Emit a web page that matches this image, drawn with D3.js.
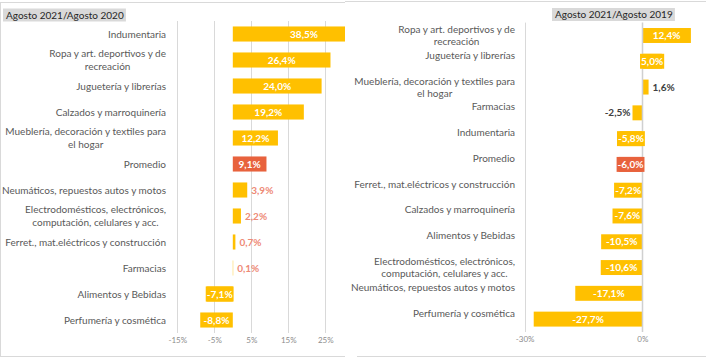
<!DOCTYPE html>
<html>
<head>
<meta charset="utf-8">
<script src="https://cdn.jsdelivr.net/npm/d3@7"></script>
<style>
  html, body { margin: 0; padding: 0; background: #fff; }
  svg { display: block; }
  text { font-family: Lato, "Open Sans", sans-serif; }
</style>
</head>
<body>
<svg id="chart" width="706" height="358"></svg>
<script>
// ---------- DATA ----------
const leftTitle = "Agosto 2021/Agosto 2020";
const leftCategories = [
  "Indumentaria",
  "Ropa y art. deportivos y de\nrecreación",
  "Juguetería y librerías",
  "Calzados y marroquinería",
  "Mueblería, decoración y textiles para\nel hogar",
  "Promedio",
  "Neumáticos, repuestos autos y motos",
  "Electrodomésticos, electrónicos,\ncomputación, celulares y acc.",
  "Ferret., mat.eléctricos y construcción",
  "Farmacias",
  "Alimentos y Bebidas",
  "Perfumería y cosmética"
];
const leftValues = [38.5, 26.4, 24.0, 19.2, 12.2, 9.1, 3.9, 2.2, 0.7, 0.1, -7.1, -8.8];
const leftTicks = [-15, -5, 5, 15, 25];

const rightTitle = "Agosto 2021/Agosto 2019";
const rightCategories = [
  "Ropa y art. deportivos y de\nrecreación",
  "Juguetería y librerías",
  "Mueblería, decoración y textiles para\nel hogar",
  "Farmacias",
  "Indumentaria",
  "Promedio",
  "Ferret., mat.eléctricos y construcción",
  "Calzados y marroquinería",
  "Alimentos y Bebidas",
  "Electrodomésticos, electrónicos,\ncomputación, celulares y acc.",
  "Neumáticos, repuestos autos y motos",
  "Perfumería y cosmética"
];
const rightValues = [12.4, 5.0, 1.6, -2.5, -5.8, -6.0, -7.2, -7.6, -10.5, -10.6, -17.1, -27.7];
const rightTicks = [-30, 0];

const highlightCategory = "Promedio";

// ---------- DRAW ----------
const svg = d3.select("#chart");
const BAR = "#FFC000", HIGHLIGHT = "#E8623D", GRID = "#D9D9D9", LABEL = "#595959";
const fmt = v => v.toFixed(1).replace(".", ",") + "%";

function drawPanel(g, cfg) {
  const y = d3.scaleBand().domain(cfg.categories).range(cfg.yRange)
    .paddingInner(0.42).paddingOuter(0.21);
  const x = d3.scaleLinear().domain(cfg.xDomain).range(cfg.xRange);

  // title
  const titleG = g.append("g");
  const titleRect = titleG.append("rect").attr("fill", "#D9D9D9");
  const tt = titleG.append("text").attr("font-size", 10).attr("fill", "#262626")
    .attr("x", cfg.titleX).attr("y", cfg.titleY).attr("dy", "0.35em").text(cfg.title);
  const bb = tt.node().getBBox();
  titleRect.attr("x", bb.x - 3).attr("y", cfg.titleY - 6.5)
    .attr("width", bb.width + 5).attr("height", 13);

  // gridlines
  g.selectAll("line.grid").data(cfg.gridValues).join("line")
    .attr("class", "grid")
    .attr("x1", d => Math.round(x(d)) + 0.5).attr("x2", d => Math.round(x(d)) + 0.5)
    .attr("y1", cfg.yRange[0]).attr("y2", cfg.yRange[1])
    .attr("stroke", GRID).attr("stroke-width", 1);

  // tick labels via axis
  const axis = d3.axisBottom(x).tickValues(cfg.ticks).tickFormat(d => d + "%").tickSize(0).tickPadding(0);
  const ax = g.append("g").attr("transform", `translate(0,${cfg.tickY})`).call(axis);
  ax.select(".domain").remove();
  ax.selectAll("text").attr("fill", "#8C8C8C").attr("font-size", 8)
    .attr("font-family", "Lato, sans-serif").attr("dy", 0);

  const data = cfg.categories.map((c, i) => ({ c, v: cfg.values[i] }));
  const colorOf = d => d.c === highlightCategory ? HIGHLIGHT : BAR;

  // bars
  g.selectAll("rect.bar").data(data).join("rect")
    .attr("class", "bar")
    .attr("x", d => x(Math.min(0, d.v)))
    .attr("width", d => Math.abs(x(d.v) - x(0)))
    .attr("y", d => y(d.c))
    .attr("height", y.bandwidth())
    .attr("fill", colorOf);

  if (cfg.zeroLine) {
    g.append("line")
      .attr("x1", Math.round(x(0)) + 0.5).attr("x2", Math.round(x(0)) + 0.5)
      .attr("y1", cfg.yRange[0]).attr("y2", cfg.yRange[1])
      .attr("stroke", "#D0D0D0").attr("stroke-width", 1.5);
  }

  // value labels
  data.forEach(d => {
    const lg = g.append("g");
    const bgRect = lg.append("rect");
    const cy = y(d.c) + y.bandwidth() / 2;
    const t = lg.append("text")
      .attr("font-size", 10).attr("font-weight", "bold")
      .attr("y", cy).attr("dy", "0.35em")
      .text(fmt(d.v));
    const tw = t.node().getComputedTextLength();
    const bw = Math.abs(x(d.v) - x(0));
    if (bw >= 18) {
      const cx = (x(d.v) + x(0)) / 2;
      t.attr("x", cx).attr("text-anchor", "middle").attr("fill", "#fff");
      if (tw + 2 > bw) {
        bgRect.attr("x", cx - tw / 2 - 1).attr("width", tw + 2)
          .attr("y", y(d.c)).attr("height", y.bandwidth()).attr("fill", colorOf(d));
      }
    } else if (d.v >= 0) {
      t.attr("x", Math.max(x(d.v), x(0)) + 4).attr("text-anchor", "start").attr("fill", cfg.outsideColor);
    } else {
      t.attr("x", x(d.v) - 2).attr("text-anchor", "end").attr("fill", cfg.outsideColor);
    }
  });

  // category labels
  data.forEach(d => {
    const lines = d.c.split("\n");
    const cy = y(d.c) + y.bandwidth() / 2;
    const lh = cfg.lineHeight;
    const tg = g.append("g");
    const texts = lines.map(s => tg.append("text").attr("font-size", 10).attr("fill", LABEL).text(s));
    const widths = texts.map(t => t.node().getComputedTextLength());
    const maxW = Math.max(...widths);
    const y0 = lines.length > 1 ? cy - (lines.length - 1) * lh / 2 : cy + cfg.singleOffset;
    texts.forEach((t, i) => {
      t.attr("x", cfg.labelRight - maxW / 2).attr("text-anchor", "middle")
        .attr("y", y0 + i * lh).attr("dy", "0.35em");
    });
  });
}

// left panel
const left = svg.append("g");
left.append("rect").attr("x", 0.5).attr("y", 2.5).attr("width", 360).attr("height", 354)
  .attr("fill", "#fff").attr("stroke", "#D9D9D9");
drawPanel(left, {
  categories: leftCategories, values: leftValues, ticks: leftTicks, gridValues: leftTicks,
  xDomain: [-20, 40], xRange: [158.8, 380.8], yRange: [21, 333], tickY: 343,
  zeroLine: false, outsideColor: "#EE8A76", labelRight: 166, lineHeight: 13, singleOffset: 0,
  title: leftTitle, titleX: 6, titleY: 15
});

// right panel (overlaps left)
const right = svg.append("g");
right.append("rect").attr("x", 345).attr("y", 0).attr("width", 361).attr("height", 358).attr("fill", "#fff");
right.append("line").attr("x1", 345).attr("x2", 706).attr("y1", 1.5).attr("y2", 1.5).attr("stroke", "#D9D9D9");
right.append("line").attr("x1", 357).attr("x2", 706).attr("y1", 356.5).attr("y2", 356.5).attr("stroke", "#D9D9D9");
drawPanel(right, {
  categories: rightCategories, values: rightValues, ticks: rightTicks, gridValues: [-30],
  xDomain: [-30, 15], xRange: [524.7, 701.1], yRange: [22.6, 332], tickY: 342,
  zeroLine: true, outsideColor: "#404040", labelRight: 515, lineHeight: 12, singleOffset: -6,
  title: rightTitle, titleX: 555, titleY: 14.5
});
</script>
</body>
</html>
